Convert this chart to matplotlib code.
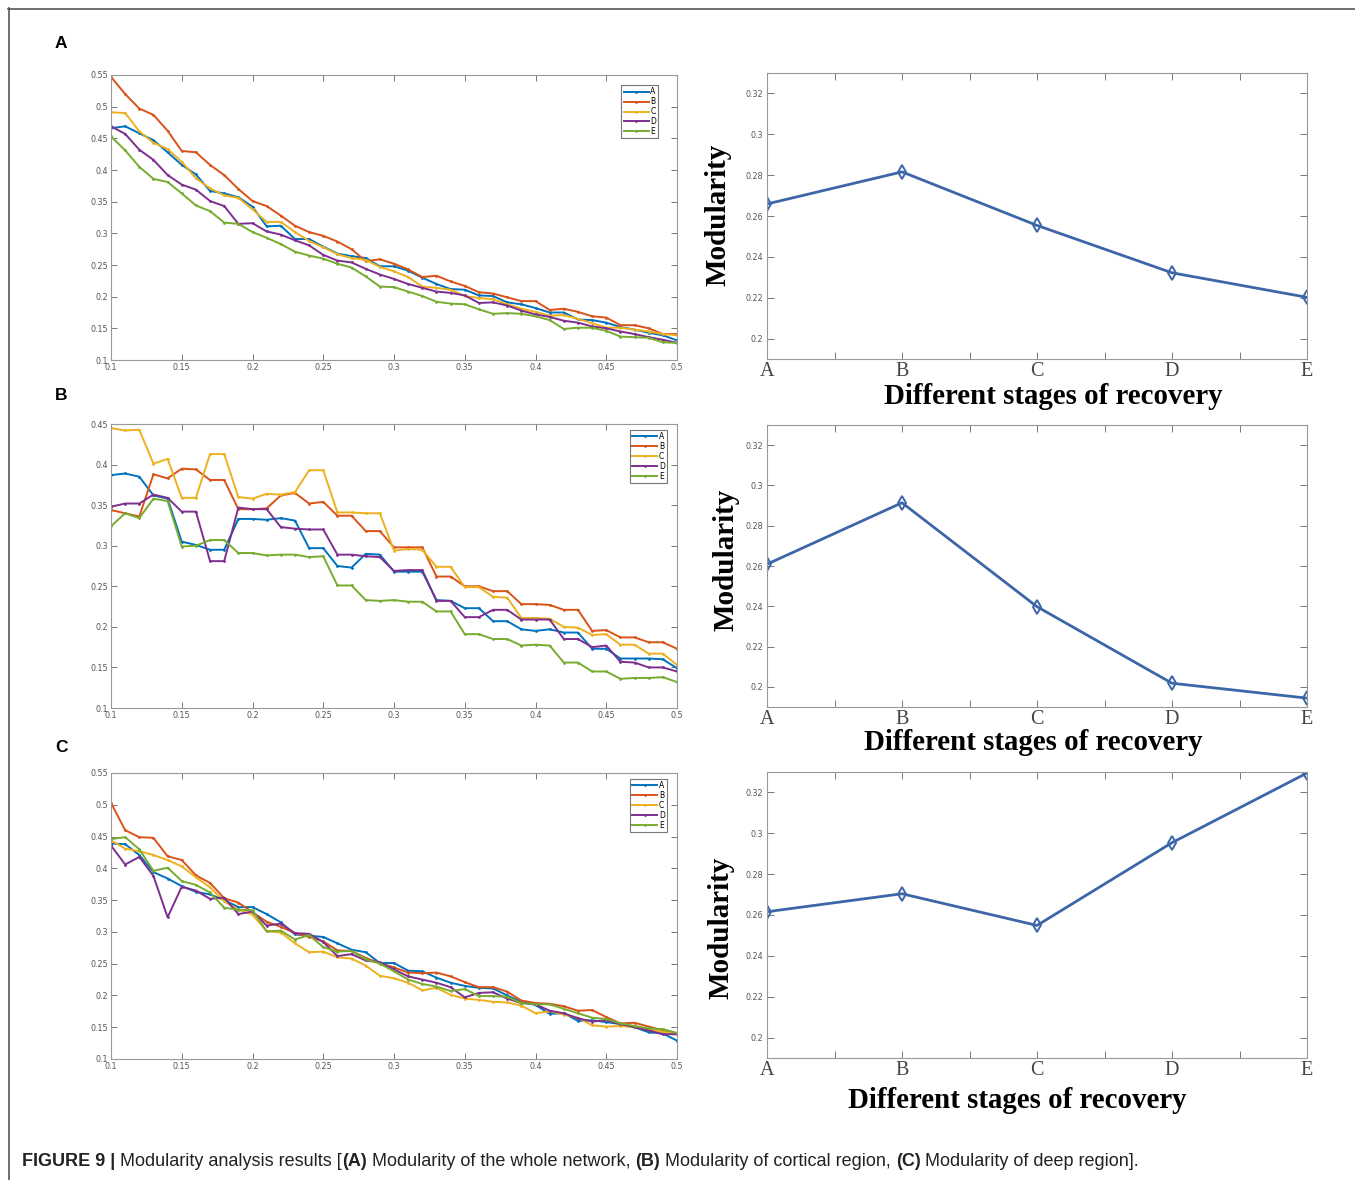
import numpy as np
import matplotlib
matplotlib.use("Agg")
import matplotlib.pyplot as plt
from matplotlib.ticker import FuncFormatter, MultipleLocator, FixedLocator

W, H = 1355, 1180
x_thr = [round(0.10 + 0.01 * i, 2) for i in range(41)]
series_names = ["A", "B", "C", "D", "E"]
stages = ["A", "B", "C", "D", "E"]

# Panel A (whole network)
a_A = [0.466,0.469,0.458,0.447,0.428,0.408,0.393,0.367,0.363,0.357,0.342,0.311,0.312,0.291,0.291,0.279,0.268,0.264,0.261,0.248,0.248,0.241,0.230,0.220,0.212,0.211,0.202,0.201,0.191,0.188,0.182,0.175,0.175,0.164,0.163,0.159,0.152,0.148,0.143,0.139,0.131]
a_B = [0.547,0.520,0.497,0.487,0.462,0.430,0.428,0.408,0.392,0.370,0.351,0.343,0.328,0.312,0.302,0.296,0.287,0.275,0.256,0.259,0.252,0.243,0.231,0.233,0.224,0.217,0.207,0.205,0.199,0.193,0.193,0.179,0.181,0.176,0.169,0.167,0.155,0.155,0.150,0.141,0.141]
a_C = [0.491,0.490,0.461,0.443,0.433,0.413,0.387,0.371,0.360,0.356,0.338,0.318,0.318,0.302,0.288,0.278,0.267,0.261,0.258,0.247,0.240,0.231,0.216,0.214,0.211,0.201,0.198,0.196,0.188,0.181,0.176,0.170,0.171,0.165,0.158,0.151,0.151,0.148,0.145,0.141,0.139]
a_D = [0.469,0.457,0.432,0.416,0.392,0.377,0.369,0.351,0.343,0.315,0.316,0.303,0.298,0.289,0.281,0.266,0.257,0.254,0.244,0.235,0.228,0.220,0.214,0.208,0.206,0.202,0.190,0.191,0.186,0.178,0.172,0.168,0.162,0.159,0.153,0.150,0.145,0.141,0.136,0.132,0.127]
a_E = [0.453,0.431,0.405,0.386,0.381,0.363,0.344,0.335,0.317,0.315,0.302,0.293,0.283,0.271,0.265,0.260,0.252,0.246,0.232,0.216,0.215,0.208,0.201,0.192,0.189,0.188,0.180,0.173,0.174,0.173,0.169,0.163,0.149,0.151,0.151,0.146,0.137,0.136,0.135,0.128,0.127]

# Panel B (cortical region)
b_A = [0.387,0.389,0.385,0.362,0.358,0.305,0.301,0.295,0.295,0.333,0.333,0.332,0.334,0.331,0.297,0.297,0.275,0.273,0.290,0.289,0.268,0.268,0.268,0.233,0.232,0.223,0.223,0.207,0.207,0.197,0.195,0.197,0.193,0.193,0.173,0.173,0.161,0.161,0.161,0.160,0.149]
b_B = [0.344,0.340,0.336,0.388,0.383,0.395,0.394,0.381,0.381,0.345,0.345,0.346,0.362,0.365,0.352,0.354,0.337,0.337,0.318,0.318,0.298,0.298,0.298,0.262,0.262,0.250,0.250,0.244,0.244,0.228,0.228,0.227,0.221,0.221,0.195,0.196,0.187,0.187,0.181,0.181,0.173]
b_C = [0.445,0.442,0.443,0.401,0.407,0.359,0.359,0.413,0.413,0.360,0.358,0.364,0.363,0.366,0.393,0.393,0.341,0.341,0.340,0.340,0.294,0.296,0.295,0.274,0.274,0.249,0.249,0.237,0.236,0.211,0.211,0.210,0.200,0.199,0.190,0.191,0.178,0.178,0.167,0.167,0.153]
b_D = [0.348,0.352,0.352,0.363,0.359,0.342,0.342,0.281,0.281,0.347,0.345,0.345,0.323,0.321,0.320,0.320,0.289,0.289,0.287,0.286,0.269,0.270,0.270,0.232,0.232,0.212,0.212,0.221,0.221,0.209,0.209,0.209,0.185,0.185,0.175,0.177,0.157,0.156,0.150,0.150,0.145]
b_E = [0.324,0.340,0.334,0.358,0.355,0.299,0.300,0.307,0.307,0.291,0.291,0.288,0.289,0.289,0.286,0.287,0.251,0.251,0.233,0.232,0.233,0.231,0.231,0.219,0.219,0.191,0.191,0.185,0.185,0.177,0.178,0.177,0.156,0.156,0.145,0.145,0.136,0.137,0.137,0.138,0.132]

# Panel C (deep region)
c_A = [0.439,0.438,0.421,0.394,0.384,0.372,0.363,0.359,0.350,0.339,0.339,0.328,0.315,0.296,0.294,0.292,0.282,0.272,0.268,0.251,0.251,0.239,0.238,0.228,0.220,0.215,0.212,0.211,0.200,0.190,0.185,0.171,0.172,0.160,0.161,0.158,0.155,0.150,0.142,0.140,0.129]
c_B = [0.503,0.460,0.449,0.448,0.419,0.413,0.389,0.377,0.353,0.346,0.331,0.316,0.308,0.298,0.292,0.285,0.271,0.270,0.259,0.251,0.244,0.236,0.235,0.236,0.230,0.221,0.213,0.213,0.206,0.192,0.188,0.187,0.183,0.176,0.177,0.166,0.156,0.157,0.151,0.145,0.140]
c_C = [0.444,0.431,0.427,0.421,0.413,0.403,0.386,0.370,0.348,0.335,0.327,0.301,0.299,0.282,0.268,0.269,0.260,0.258,0.247,0.231,0.227,0.220,0.208,0.212,0.201,0.195,0.193,0.190,0.189,0.184,0.172,0.175,0.170,0.165,0.153,0.151,0.152,0.150,0.146,0.143,0.139]
c_D = [0.436,0.406,0.418,0.388,0.323,0.371,0.365,0.352,0.354,0.328,0.332,0.310,0.313,0.298,0.297,0.284,0.262,0.265,0.255,0.252,0.241,0.230,0.225,0.220,0.213,0.197,0.204,0.205,0.195,0.188,0.186,0.176,0.172,0.164,0.159,0.161,0.155,0.150,0.145,0.139,0.139]
c_E = [0.446,0.449,0.430,0.396,0.401,0.380,0.374,0.362,0.338,0.335,0.334,0.301,0.302,0.288,0.295,0.276,0.269,0.270,0.257,0.250,0.238,0.225,0.218,0.214,0.207,0.210,0.199,0.199,0.198,0.188,0.186,0.186,0.179,0.172,0.165,0.163,0.156,0.152,0.148,0.147,0.141]

# Mean modularity per recovery stage
mod_A = [0.2659, 0.2816, 0.2554, 0.2322, 0.2202]
mod_B = [0.2609, 0.2914, 0.2398, 0.2018, 0.1944]
mod_C = [0.2616, 0.2704, 0.2549, 0.2954, 0.3295]

line_colors = ["#0072BD", "#D95319", "#EDB120", "#7E2F8E", "#77AC30"]

fig = plt.figure(figsize=(W / 100, H / 100), dpi=100)
fig.patch.set_facecolor("white")


def px_axes(l, t, r, b):
    return fig.add_axes([l / W, 1 - b / H, (r - l) / W, (b - t) / H])


fmt = FuncFormatter(lambda v, p: "%g" % round(v, 4))
SERIF = ["Liberation Serif", "DejaVu Serif"]


def left_panel(box, data, ymax, legbox):
    ax = px_axes(*box)
    for vals, name, col in zip(data, series_names, line_colors):
        ax.plot(x_thr, vals, color=col, lw=1.4, marker=".", ms=2.0, label=name)
    ax.set_xlim(0.1, 0.5)
    ax.set_ylim(0.1, ymax)
    ax.xaxis.set_major_locator(MultipleLocator(0.05))
    ax.yaxis.set_major_locator(MultipleLocator(0.05))
    ax.xaxis.set_major_formatter(fmt)
    ax.yaxis.set_major_formatter(fmt)
    ax.tick_params(direction="in", top=True, right=True, length=4, width=0.7,
                   color="#777777", labelsize=5.8, labelcolor="#555555", pad=2)
    for s in ax.spines.values():
        s.set_color("#999999")
        s.set_linewidth(0.8)
    leg = ax.legend(loc="upper right", bbox_to_anchor=legbox, fontsize=5.5,
                    handlelength=3.3, labelspacing=0.12, borderpad=0.3,
                    handletextpad=0.2, borderaxespad=0.2, fancybox=False,
                    framealpha=1)
    leg.get_frame().set_edgecolor("#777777")
    leg.get_frame().set_linewidth(0.8)
    return ax


def right_panel(box, vals, ylab_x, xlab_y):
    ax = px_axes(*box)
    ax.plot(range(5), vals, color="#3D66A8", lw=2, marker="d", ms=7,
            mfc="none", mec="#3D66A8", mew=1.4)
    ax.set_xlim(0, 4)
    ax.set_ylim(0.19, 0.33)
    ax.xaxis.set_major_locator(FixedLocator(range(5)))
    ax.xaxis.set_minor_locator(FixedLocator([0.5, 1.5, 2.5, 3.5]))
    ax.set_xticklabels(stages, fontfamily=SERIF, fontsize=14.5, color="#444444")
    ax.yaxis.set_major_locator(FixedLocator([0.2, 0.22, 0.24, 0.26, 0.28, 0.3, 0.32]))
    ax.yaxis.set_major_formatter(fmt)
    ax.tick_params(axis="both", which="both", direction="in", top=True, right=True,
                   length=5, width=0.7, color="#777777")
    ax.tick_params(axis="y", labelsize=5.8, labelcolor="#555555", pad=3)
    ax.tick_params(axis="x", pad=2)
    for s in ax.spines.values():
        s.set_color("#999999")
        s.set_linewidth(0.8)
    fig.text(ylab_x[0] / W, 1 - ylab_x[1] / H, "Modularity", rotation=90,
             ha="center", va="center", fontfamily=SERIF, fontweight="bold",
             fontsize=21)
    fig.text(xlab_y[0] / W, 1 - xlab_y[1] / H, "Different stages of recovery",
             ha="center", va="center", fontfamily=SERIF, fontweight="bold",
             fontsize=20.8)
    return ax


left_panel((111, 75, 677, 360), [a_A, a_B, a_C, a_D, a_E], 0.55, (0.97, 0.97))
left_panel((111, 424, 677, 708), [b_A, b_B, b_C, b_D, b_E], 0.45, (0.985, 0.985))
left_panel((111, 773, 677, 1059), [c_A, c_B, c_C, c_D, c_E], 0.55, (0.985, 0.985))

right_panel((767, 73, 1307, 359), mod_A, (718, 215), (1053, 396))
right_panel((767, 425, 1307, 707), mod_B, (726, 560), (1033, 743))
right_panel((767, 772, 1307, 1058), mod_C, (721, 928), (1017, 1100))

for letter, yy in zip(["A", "B", "C"], [43, 395, 747]):
    fig.text(61 / W, 1 - yy / H, letter, ha="center", va="center",
             fontsize=12.5, fontweight="bold", fontfamily=["Liberation Sans", "DejaVu Sans"])

# frame lines
fig.add_artist(plt.Line2D([8 / W, 1], [1 - 8.5 / H, 1 - 8.5 / H], color="#555555", lw=1.2,
                          transform=fig.transFigure))
fig.add_artist(plt.Line2D([8.5 / W, 8.5 / W], [0, 1 - 8 / H], color="#555555", lw=1.2,
                          transform=fig.transFigure))

CAP = ["Liberation Sans Narrow", "Liberation Sans", "DejaVu Sans"]
r = fig.canvas.get_renderer()
parts = [("FIGURE 9 | ", "bold"), ("Modularity analysis results [", "normal"),
         ("(A)", "bold"), (" Modularity of the whole network, ", "normal"),
         ("(B)", "bold"), (" Modularity of cortical region, ", "normal"),
         ("(C)", "bold"), (" Modularity of deep region].", "normal")]
xcur = 22
for txt, wt in parts:
    t = fig.text(xcur / W, 1 - 1162 / H, txt, ha="left", va="center",
                 fontsize=13, fontweight=wt, fontfamily=CAP, color="#222222")
    xcur = t.get_window_extent(renderer=r).x1

fig.savefig("out.png", dpi=100, facecolor="white")
